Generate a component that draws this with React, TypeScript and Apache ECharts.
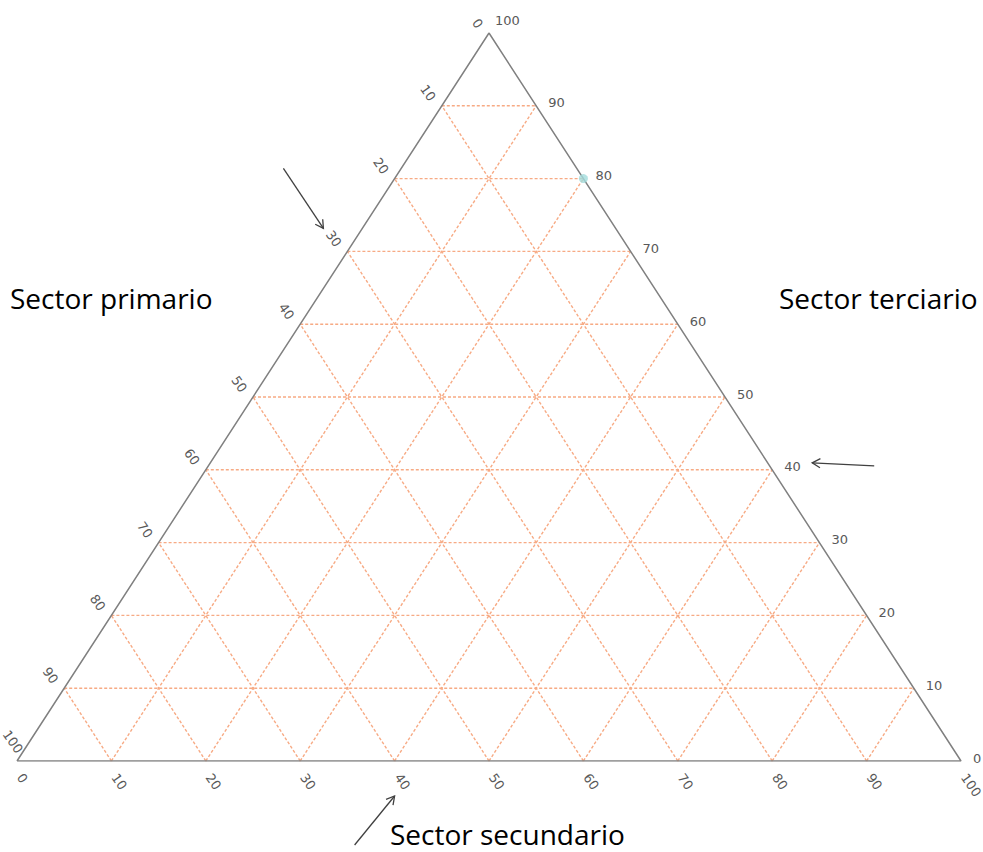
import React, { useEffect, useRef } from "react";
import * as echarts from "echarts";

// ---- data ----
const ticks = [0, 10, 20, 30, 40, 50, 60, 70, 80, 90, 100];
const gridLevels = [10, 20, 30, 40, 50, 60, 70, 80, 90];
const pointPrimario = [0];
const pointSecundario = [20];
const pointTerciario = [80];
const titlePrimario = "Sector primario";
const titleSecundario = "Sector secundario";
const titleTerciario = "Sector terciario";
const arrowPrimario = [30];
const arrowTerciario = [40];
const arrowSecundario = [40];

// ---- helpers ----
function toXY(p: number, s: number, t: number): number[] {
  const sum = p + s + t;
  return [((s + t / 2) / sum) * 100, (t / sum) * 100];
}
const leftEdge = (p: number) => toXY(p, 0, 100 - p);
const rightEdge = (t: number) => toXY(0, 100 - t, t);
const bottomEdge = (s: number) => toXY(100 - s, s, 0);

const GRID_COLOR = "#f7aa84";
const EDGE_COLOR = "#808080";
const TICK_COLOR = "#595959";
const TICK_FONT = "DejaVu Sans";
const ROT = (-55 * Math.PI) / 180;

function labelSeries(
  pts: number[][],
  dx: number,
  dy: number,
  align: string,
  rotation: number,
  special?: (v: number) => number[] | null
) {
  return {
    type: "custom",
    coordinateSystem: "cartesian2d",
    clip: false,
    silent: true,
    data: pts,
    renderItem: (_params: any, api: any) => {
      const v = api.value(2);
      const c = api.coord([api.value(0), api.value(1)]);
      const sp = special ? special(v) : null;
      const ox = sp ? sp[0] : dx;
      const oy = sp ? sp[1] : dy;
      return {
        type: "text",
        x: c[0] + ox,
        y: c[1] + oy,
        rotation,
        style: {
          text: String(v),
          fill: TICK_COLOR,
          fontSize: 13,
          lineHeight: 13,
          fontFamily: TICK_FONT,
          align,
          verticalAlign: "middle",
        },
      };
    },
  };
}

function gridSeries(segments: number[][]) {
  return {
    type: "custom",
    coordinateSystem: "cartesian2d",
    clip: false,
    silent: true,
    data: segments,
    renderItem: (_params: any, api: any) => {
      const a = api.coord([api.value(0), api.value(1)]);
      const b = api.coord([api.value(2), api.value(3)]);
      return {
        type: "line",
        shape: { x1: a[0], y1: a[1], x2: b[0], y2: b[1] },
        style: { stroke: GRID_COLOR, lineWidth: 1.4, lineDash: [3, 2] },
      };
    },
  };
}

function arrowSeries(target: number[], tip: number[], tail: number[]) {
  return {
    type: "custom",
    coordinateSystem: "cartesian2d",
    clip: false,
    silent: true,
    data: [target],
    renderItem: (_params: any, api: any) => {
      const c = api.coord([api.value(0), api.value(1)]);
      const tx = c[0] + tip[0];
      const ty = c[1] + tip[1];
      const sx = c[0] + tail[0];
      const sy = c[1] + tail[1];
      const len = Math.hypot(tx - sx, ty - sy);
      const ux = (tx - sx) / len;
      const uy = (ty - sy) / len;
      const nx = -uy;
      const ny = ux;
      const hl = 8;
      const hw = 4.5;
      const stroke = "#404040";
      return {
        type: "group",
        children: [
          {
            type: "line",
            shape: { x1: sx, y1: sy, x2: tx, y2: ty },
            style: { stroke, lineWidth: 1.3 },
          },
          {
            type: "polyline",
            shape: {
              points: [
                [tx - hl * ux + hw * nx, ty - hl * uy + hw * ny],
                [tx, ty],
                [tx - hl * ux - hw * nx, ty - hl * uy - hw * ny],
              ],
            },
            style: { stroke, lineWidth: 1.3, fill: "none" },
          },
        ],
      };
    },
  };
}

export default function App() {
  const ref = useRef<HTMLDivElement>(null);

  useEffect(() => {
    if (!ref.current) return;
    const chart = echarts.init(ref.current, null, { renderer: "svg" });

    const seg = (a: number[], b: number[]) => [...a, ...b];
    const horizontal = gridLevels.map((t) => seg(toXY(100 - t, 0, t), toXY(0, 100 - t, t)));
    const constS = gridLevels.map((s) => seg(toXY(100 - s, s, 0), toXY(0, s, 100 - s)));
    const constP = gridLevels.map((p) => seg(toXY(p, 100 - p, 0), toXY(p, 0, 100 - p)));

    const outline = [bottomEdge(0), bottomEdge(100), rightEdge(100), bottomEdge(0)];

    const points = pointPrimario.map((p, i) => toXY(p, pointSecundario[i], pointTerciario[i]));

    const leftLabels = ticks.map((v) => [...leftEdge(v), v]);
    const rightLabels = ticks.map((v) => [...rightEdge(v), v]);
    const bottomLabels = ticks.map((v) => [...bottomEdge(v), v]);

    const titleFont = {
      fontFamily: "Open Sans",
      fontSize: 28,
      lineHeight: 28,
      fill: "#000000",
      verticalAlign: "middle",
    };

    chart.setOption({
      animation: false,
      backgroundColor: "#ffffff",
      grid: { left: 17, top: 33, width: 944, height: 728 },
      xAxis: { type: "value", min: 0, max: 100, show: false },
      yAxis: { type: "value", min: 0, max: 100, show: false },
      graphic: [
        { type: "text", x: 10, y: 298, style: { text: titlePrimario, ...titleFont } },
        { type: "text", x: 779, y: 298, style: { text: titleTerciario, ...titleFont } },
        { type: "text", x: 390, y: 834, style: { text: titleSecundario, ...titleFont } },
      ],
      series: [
        gridSeries([...horizontal, ...constS, ...constP]),
        {
          type: "line",
          data: outline,
          symbol: "none",
          silent: true,
          lineStyle: { color: EDGE_COLOR, width: 1.5 },
          z: 3,
        },
        {
          type: "scatter",
          data: points,
          symbolSize: 9,
          itemStyle: { color: "#a3dcdc" },
          z: 5,
        },
        labelSeries(leftLabels, -9, -6, "right", ROT, (v) => (v === 100 ? [3, -9] : null)),
        labelSeries(bottomLabels, 3, 14, "left", ROT),
        labelSeries(rightLabels, 12, -3, "left", 0, (v) => (v === 100 ? [6, -13] : null)),
        arrowSeries([...leftEdge(arrowPrimario[0])], [-24, -23], [-64, -83]),
        arrowSeries([...rightEdge(arrowTerciario[0])], [40, -7], [102, -4]),
        arrowSeries([...bottomEdge(arrowSecundario[0])], [0, 35], [-40, 84]),
      ],
    });

    return () => chart.dispose();
  }, []);

  return (
    <div
      ref={ref}
      style={{ position: "absolute", left: 0, top: 0, width: 983, height: 852 }}
    />
  );
}
